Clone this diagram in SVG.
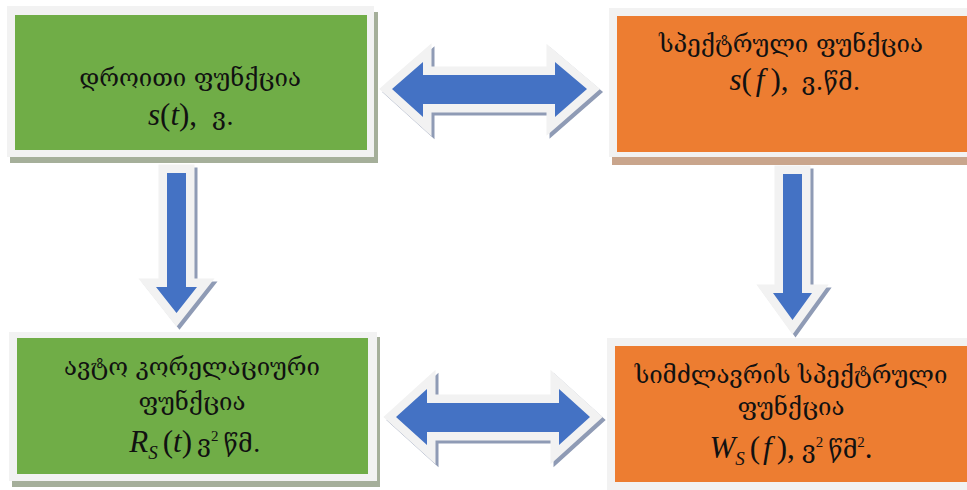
<svg xmlns="http://www.w3.org/2000/svg" width="967" height="490" viewBox="0 0 967 490">
  <style>
    .frame { fill: #f2f2f2; }
    .green { fill: #70ad47; }
    .orange { fill: #ed7d31; }
    .sh-g { fill: #a5af9a; }
    .sh-o { fill: #c9a58c; }
    .geo { font-family: "DejaVu Serif", "DejaVu Sans", serif; font-size: 24px; fill: #111; text-anchor: middle; }
    .math { font-family: "Liberation Serif", "DejaVu Serif", serif; font-size: 31px; fill: #111; text-anchor: middle; }
    .it { font-style: italic; }
    .g { font-family: "DejaVu Serif", "DejaVu Sans", serif; font-size: 25px; font-style: normal; }
    .sup { font-size: 15px; }
    .sub { font-size: 19px; font-style: italic; }
    .arr-sh { fill: #8f9bb5; stroke: #8f9bb5; stroke-width: 17; stroke-linejoin: miter; stroke-miterlimit: 10; }
    .arr { fill: #4472c4; stroke: #f2f2f2; stroke-width: 17; stroke-linejoin: miter; stroke-miterlimit: 10; paint-order: stroke; }
  </style>

  <rect width="967" height="490" fill="#ffffff"/>

  <!-- time-domain function -->
  <g id="time-function">
    <rect class="sh-g" x="10" y="12" width="368" height="151"/>
    <rect class="frame" x="7" y="6" width="367" height="151"/>
    <rect class="green" x="15" y="15" width="352" height="135"/>
    <text class="geo" x="190" y="86">დროითი ფუნქცია</text>
    <text class="math" x="191" y="125"><tspan class="it">s</tspan>(<tspan class="it">t</tspan>),<tspan class="g" dx="15">ვ.</tspan></text>
  </g>

  <!-- spectral function -->
  <g id="spectral-function">
    <rect class="sh-o" x="612" y="13" width="355" height="152"/>
    <rect class="frame" x="609" y="8" width="358" height="149"/>
    <rect class="orange" x="617" y="16" width="350" height="136"/>
    <text class="geo" x="791" y="52">სპექტრული ფუნქცია</text>
    <text class="math" x="795" y="90"><tspan class="it">s</tspan>(<tspan class="it" dx="4">f</tspan><tspan dx="6">),</tspan><tspan class="g" dx="13">ვ.წმ.</tspan></text>
  </g>

  <!-- autocorrelation function -->
  <g id="autocorrelation-function">
    <rect class="sh-g" x="12" y="337" width="368" height="150"/>
    <rect class="frame" x="9" y="332" width="368" height="149"/>
    <rect class="green" x="17" y="338" width="351" height="136"/>
    <text class="geo" x="192" y="375">ავტო კორელაციური</text>
    <text class="geo" x="192" y="410">ფუნქცია</text>
    <text class="math" x="195" y="452"><tspan class="it">R</tspan><tspan class="sub" dy="7">S</tspan><tspan dy="-7" dx="5">(</tspan><tspan class="it">t</tspan>)<tspan class="g" dx="5">ვ</tspan><tspan class="sup" dy="-11">2</tspan><tspan class="g" dy="11" dx="5">წმ.</tspan></text>
  </g>

  <!-- power spectral density -->
  <g id="power-spectrum">
    <rect class="frame" x="607" y="338" width="360" height="152"/>
    <rect class="orange" x="615" y="346" width="352" height="136"/>
    <text class="geo" x="791" y="383">სიმძლავრის სპექტრული</text>
    <text class="geo" x="791" y="415">ფუნქცია</text>
    <text class="math" x="791" y="458"><tspan class="it">W</tspan><tspan class="sub" dy="7">S</tspan><tspan dy="-7" dx="5">(</tspan><tspan class="it" dx="3">f</tspan><tspan dx="5">),</tspan><tspan class="g" dx="7">ვ</tspan><tspan class="sup" dy="-11">2</tspan><tspan class="g" dy="11" dx="5">წმ</tspan><tspan class="sup" dy="-11">2</tspan><tspan dy="11">.</tspan></text>
  </g>

  <!-- block arrows -->
  <g id="connectors">
    <g id="arrow-top">
      <polygon class="arr-sh" transform="translate(3,3)" points="392,89 423,62 423,75 555,75 555,62 587,89 555,117 555,104 423,104 423,117"/>
      <polygon class="arr" points="392,89 423,62 423,75 555,75 555,62 587,89 555,117 555,104 423,104 423,117"/>
    </g>
    <g id="arrow-bottom">
      <polygon class="arr-sh" transform="translate(3,3)" points="396,417 427,389 427,403 559,403 559,389 590,417 559,445 559,432 427,432 427,445"/>
      <polygon class="arr" points="396,417 427,389 427,403 559,403 559,389 590,417 559,445 559,432 427,432 427,445"/>
    </g>
    <g id="arrow-left-down">
      <polygon class="arr-sh" transform="translate(3,3)" points="167,173 186,173 186,287 197,287 176.5,313 156,287 167,287"/>
      <polygon class="arr" points="167,173 186,173 186,287 197,287 176.5,313 156,287 167,287"/>
    </g>
    <g id="arrow-right-down">
      <polygon class="arr-sh" transform="translate(3,3)" points="783,174 802,174 802,293 812,293 792.5,320 773,293 783,293"/>
      <polygon class="arr" points="783,174 802,174 802,293 812,293 792.5,320 773,293 783,293"/>
    </g>
  </g>
</svg>
